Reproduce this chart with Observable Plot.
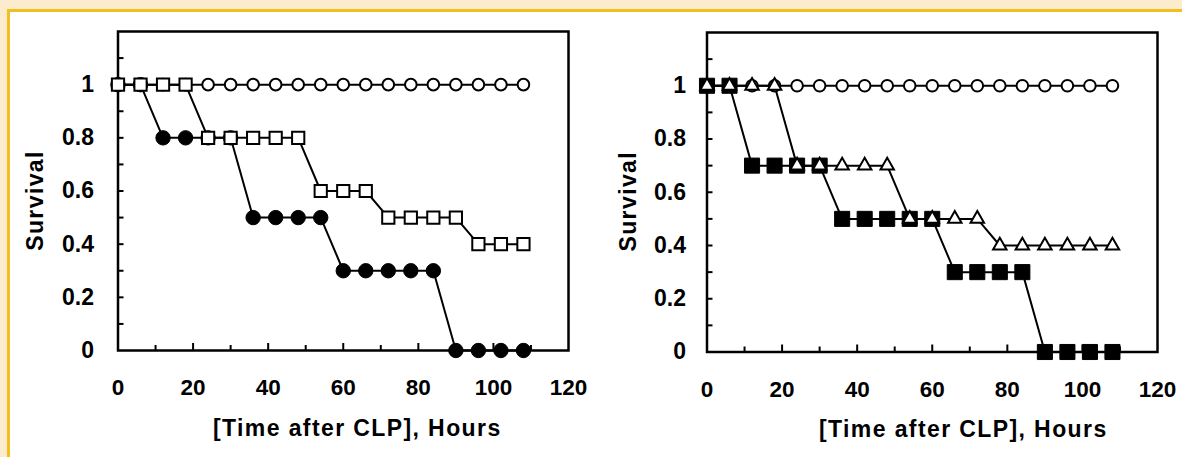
<!DOCTYPE html>
<html>
<head>
<meta charset="utf-8">
<script src="https://cdn.jsdelivr.net/npm/d3@7"></script>
<script src="https://cdn.jsdelivr.net/npm/@observablehq/plot@0.6"></script>
<style>
  html, body { margin: 0; padding: 0; }
  body { width: 1182px; height: 457px; overflow: hidden; background: #fcebcd; }
  #wrap { position: relative; width: 1182px; height: 457px; }
  #inner { position: absolute; left: 7px; top: 9px; width: 1175px; height: 448px; box-sizing: border-box;
           background: #ffffff; border-left: 3px solid #f2c01c; border-top: 3px solid #f2c01c; }
  .panel { position: absolute; top: 0; }
  #left { left: 0; }
  #right { left: 591px; }
</style>
</head>
<body>
<div id="wrap">
  <div id="inner"></div>
  <div class="panel" id="left"></div>
  <div class="panel" id="right"></div>
</div>
<script>
// ---- data ----
const hours = [0, 6, 12, 18, 24, 30, 36, 42, 48, 54, 60, 66, 72, 78, 84, 90, 96, 102, 108];

// left panel
const leftOpenCircles  = [1, 1, 1, 1, 1, 1, 1, 1, 1, 1, 1, 1, 1, 1, 1, 1, 1, 1, 1];
const leftFilledCircles = [1, 1, 0.8, 0.8, 0.8, 0.8, 0.5, 0.5, 0.5, 0.5, 0.3, 0.3, 0.3, 0.3, 0.3, 0, 0, 0, 0];
const leftOpenSquares  = [1, 1, 1, 1, 0.8, 0.8, 0.8, 0.8, 0.8, 0.6, 0.6, 0.6, 0.5, 0.5, 0.5, 0.5, 0.4, 0.4, 0.4];

// right panel
const rightOpenCircles   = [1, 1, 1, 1, 1, 1, 1, 1, 1, 1, 1, 1, 1, 1, 1, 1, 1, 1, 1];
const rightFilledSquares = [1, 1, 0.7, 0.7, 0.7, 0.7, 0.5, 0.5, 0.5, 0.5, 0.5, 0.3, 0.3, 0.3, 0.3, 0, 0, 0, 0];
const rightOpenTriangles = [1, 1, 1, 1, 0.7, 0.7, 0.7, 0.7, 0.7, 0.5, 0.5, 0.5, 0.5, 0.4, 0.4, 0.4, 0.4, 0.4, 0.4];

// axes
const xTickLabels = [0, 20, 40, 60, 80, 100, 120];
const xMajorInner = [20, 40, 60, 80, 100];
const xMinorTicks = [10, 30, 50, 70, 90, 110];
const yTickLabels = [0, 0.2, 0.4, 0.6, 0.8, 1];
const yInnerTicks = [0.1, 0.2, 0.3, 0.4, 0.5, 0.6, 0.7, 0.8, 0.9, 1, 1.1];
const xTitle = "[Time after CLP], Hours";
const yTitle = "Survival";

const table = (arr) => hours.map((h, i) => ({hour: h, value: arr[i]}));

const FONT = "'Liberation Sans', Arial, Helvetica, sans-serif";

const markerStyles = {
  openCircle:   {symbol: "circle",   r: 5.8, fill: "white", stroke: "black", strokeWidth: 2},
  filledCircle: {symbol: "circle",   r: 7.2, fill: "black", stroke: "black", strokeWidth: 1},
  openSquare:   {symbol: "square",   r: 6.9, fill: "white", stroke: "black", strokeWidth: 2},
  filledSquare: {symbol: "square",   r: 8.5, fill: "black", stroke: "black", strokeWidth: 1},
  openTriangle: {symbol: "triangle", r: 5.0, fill: "white", stroke: "black", strokeWidth: 2}
};

function panel(series, m) {
  const marks = [
    Plot.axisY(yInnerTicks, {tickSize: -6, tickFormat: () => "", strokeWidth: 2, label: null}),
    Plot.axisX(xMinorTicks, {tickSize: -5, tickFormat: () => "", strokeWidth: 2, label: null}),
    Plot.axisX(xMajorInner, {tickSize: -7, tickFormat: () => "", strokeWidth: 2, label: null}),
    Plot.axisY(yTickLabels, {tickSize: 0, tickPadding: m.yPad, tickFormat: d => String(d), fontSize: 23, fontWeight: "bold", label: null}),
    Plot.axisX(xTickLabels, {tickSize: 0, tickPadding: 29, tickFormat: d => String(d), fontSize: 22.5, fontWeight: "bold", label: null}),
    Plot.frame({stroke: "black", strokeWidth: 2.5})
  ];
  for (const s of series) {
    const t = table(s.values);
    marks.push(Plot.line(t, {x: "hour", y: "value", stroke: "black", strokeWidth: 2}));
  }
  for (const s of series) {
    const t = table(s.values);
    marks.push(Plot.dot(t, {x: "hour", y: "value", ...markerStyles[s.marker]}));
  }
  marks.push(Plot.text([xTitle], {text: d => d, frameAnchor: "bottom", dy: 78, dx: m.xTitleDx,
    fontSize: 23, fontWeight: "bold", fill: "black", textAnchor: "middle", lineAnchor: "middle"}));
  marks.push(Plot.text([yTitle], {text: d => d, frameAnchor: "left", dx: m.yTitleDx, dy: m.yTitleDy, rotate: -90,
    fontSize: 23, fontWeight: "bold", fill: "black", textAnchor: "middle", lineAnchor: "middle"}));

  const svg = Plot.plot({
    width: 591, height: 457,
    marginLeft: m.left, marginRight: m.right, marginTop: m.top, marginBottom: m.bottom,
    style: {background: "transparent", fontFamily: FONT, fontWeight: "bold", color: "black", overflow: "visible"},
    x: {domain: [0, 120]},
    y: {domain: [0, 1.2]},
    marks
  });
  d3.select(svg).selectAll("text").each(function () {
    const el = d3.select(this);
    const txt = this.textContent;
    el.style("font-weight", "bold").attr("fill", "black");
    if (txt === xTitle || txt === yTitle) {
      el.style("font-size", "23px").style("letter-spacing", "1.4px");
    }
  });
  return svg;
}

document.getElementById("left").appendChild(panel([
  {values: leftOpenCircles, marker: "openCircle"},
  {values: leftFilledCircles, marker: "filledCircle"},
  {values: leftOpenSquares, marker: "openSquare"}
], {left: 117.5, right: 23, top: 31, bottom: 107, yPad: 24, xTitleDx: 14, yTitleDx: -82.5, yTitleDy: 9.5}));

document.getElementById("right").appendChild(panel([
  {values: rightOpenCircles, marker: "openCircle"},
  {values: rightFilledSquares, marker: "filledSquare"},
  {values: rightOpenTriangles, marker: "openTriangle"}
], {left: 115.5, right: 25, top: 32, bottom: 105.5, yPad: 21, xTitleDx: 31, yTitleDx: -78.5, yTitleDy: 9}));
</script>
</body>
</html>
